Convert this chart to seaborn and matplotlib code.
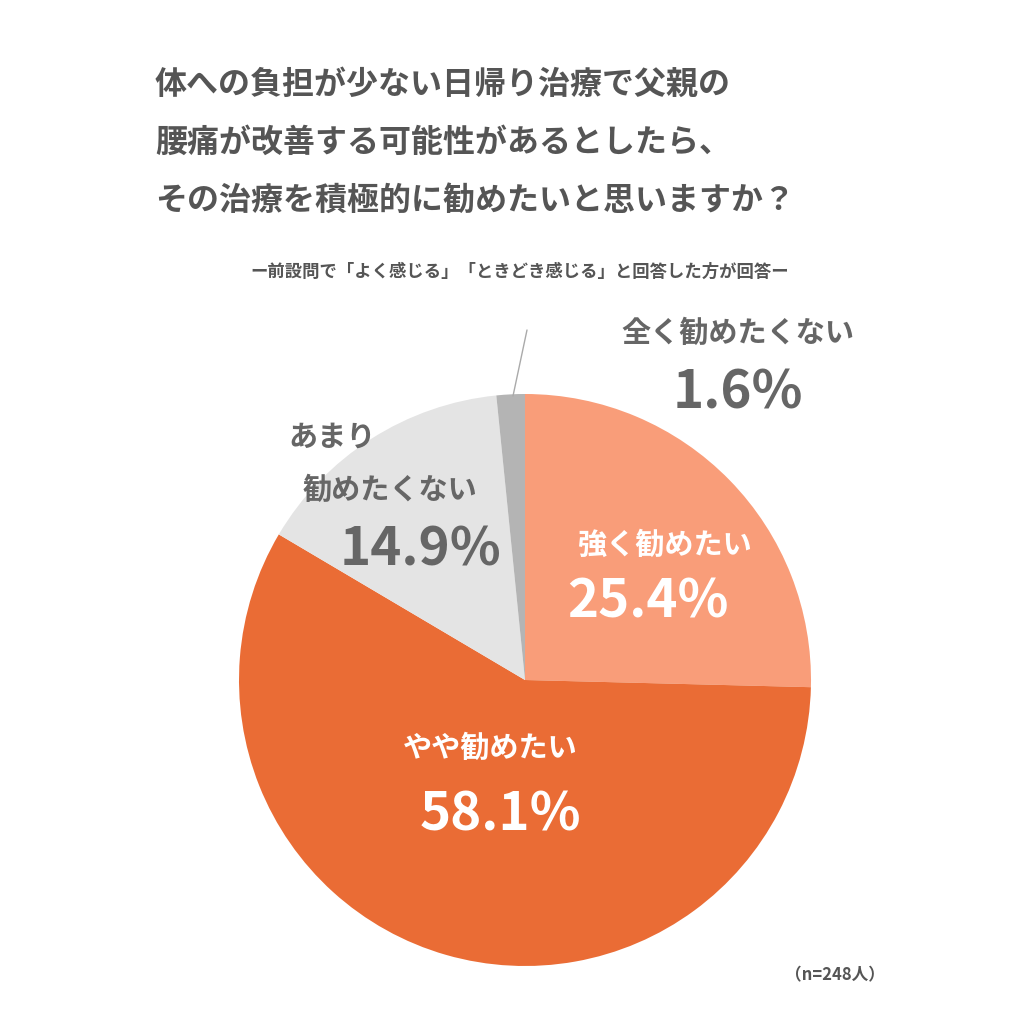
import matplotlib
matplotlib.use("Agg")
import matplotlib.pyplot as plt
import seaborn as sns

sns.set_theme(style="white")
plt.rcParams['font.family'] = ['Noto Sans CJK JP', 'DejaVu Sans']

categories = ["強く勧めたい", "やや勧めたい", "あまり\n勧めたくない", "全く勧めたくない"]
values = [25.4, 58.1, 14.9, 1.6]
colors = ["#F99D79", "#EA6C35", "#E4E4E4", "#B4B4B4"]

W = 1024
fig = plt.figure(figsize=(10.24, 10.24), dpi=100)
cx, cy, r = 525, 680, 286
ax = fig.add_axes([(cx - r) / W, (W - cy - r) / W, 2 * r / W, 2 * r / W])
ax.pie(values, colors=colors, startangle=90, counterclock=False,
       wedgeprops=dict(linewidth=0), radius=1)
ax.set_aspect("equal")
ax.set_xlim(-1, 1); ax.set_ylim(-1, 1)
ax.axis("off")

def T(x, y, s, **kw):
    fig.text(x / W, 1 - y / W, s, **kw)

gray = "#555555"
title = ["体への負担が少ない日帰り治療で父親の",
         "腰痛が改善する可能性があるとしたら、",
         "その治療を積極的に勧めたいと思いますか？"]
for i, line in enumerate(title):
    T(155, 85 + i * 58, line, fontsize=23, fontweight="bold", color=gray, ha="left", va="center")
T(520, 272, "ー前設問で「よく感じる」「ときどき感じる」と回答した方が回答ー",
  fontsize=12.5, fontweight="bold", color=gray, ha="center", va="center")

T(665, 545, categories[0], fontsize=21, fontweight="bold", color="white", ha="center", va="center")
T(648, 602, f"{values[0]}%", fontsize=38, fontweight="bold", color="white", ha="center", va="center")
T(490, 748, categories[1], fontsize=21, fontweight="bold", color="white", ha="center", va="center")
T(500, 815, f"{values[1]}%", fontsize=38, fontweight="bold", color="white", ha="center", va="center")
T(288, 437, "あまり", fontsize=21, fontweight="bold", color="#666666", ha="left", va="center")
T(390, 490, "勧めたくない", fontsize=21, fontweight="bold", color="#666666", ha="center", va="center")
T(420, 550, f"{values[2]}%", fontsize=38, fontweight="bold", color="#666666", ha="center", va="center")
T(738, 333, categories[3], fontsize=21, fontweight="bold", color="#666666", ha="center", va="center")
T(738, 393, f"{values[3]}%", fontsize=38, fontweight="bold", color="#666666", ha="center", va="center")
fig.add_artist(plt.Line2D([513 / W, 527 / W], [1 - 396 / W, 1 - 330 / W], color="#AAAAAA", lw=1))
T(885, 975, "（n=248人）", fontsize=12, fontweight="bold", color=gray, ha="right", va="center")

fig.savefig("out.png", dpi=100, facecolor="white")
